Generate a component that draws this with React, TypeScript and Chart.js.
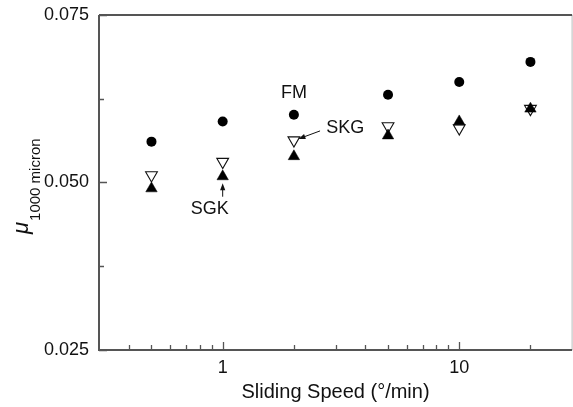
import React, { useEffect, useRef } from 'react';
import { Chart, registerables } from 'chart.js';

Chart.register(...registerables);

const speeds = [0.5, 1, 2, 5, 10, 20];
const fmValues = [0.0561, 0.0591, 0.0601, 0.0631, 0.065, 0.068];
const sgkValues = [0.0491, 0.0509, 0.0539, 0.057, 0.0591, 0.061];
const skgValues = [0.0511, 0.0531, 0.0563, 0.0584, 0.0581, 0.061];

const xMajorTicks = [1, 10];
const xMinorTicks = [0.4, 0.5, 0.6, 0.7, 0.8, 0.9, 2, 3, 4, 5, 6, 7, 8, 9, 20];
const yMajorTicks = [0.025, 0.05, 0.075];
const yMinorTicks = [0.0375, 0.0625];

const xTitle = 'Sliding Speed (°/min)';
const yTitleMain = 'μ';
const yTitleSub = '1000 micron';

const labelTexts = ['FM', 'SKG', 'SGK'];
const labelXs = [2, 3.3, 0.881];
const labelYs = [0.0633, 0.0581, 0.046];
const arrowFromXs = [2.58, 1];
const arrowFromYs = [0.0577, 0.04788];
const arrowToXs = [2.09, 1];
const arrowToYs = [0.0565, 0.04988];

const FONT = '"Liberation Sans", Arial, Helvetica, sans-serif';
const TEXT = '#111';
const AXIS = '#555';

const zeroPadding = (scale: any) => {
  scale.paddingTop = 0;
  scale.paddingBottom = 0;
  scale.paddingLeft = 0;
  scale.paddingRight = 0;
};

const decorPlugin = {
  id: 'decor',
  afterDraw(chart: any) {
    const { ctx, chartArea } = chart;
    const { left, right, top, bottom } = chartArea;
    const xs = chart.scales.x;
    const ys = chart.scales.y;
    ctx.save();
    // frame
    ctx.strokeStyle = '#bbb';
    ctx.lineWidth = 1;
    ctx.beginPath();
    ctx.moveTo(right, top);
    ctx.lineTo(right, bottom);
    ctx.stroke();
    ctx.strokeStyle = AXIS;
    ctx.lineWidth = 2;
    ctx.beginPath();
    ctx.moveTo(left, top);
    ctx.lineTo(right, top);
    ctx.moveTo(left, top);
    ctx.lineTo(left, bottom);
    ctx.lineTo(right, bottom);
    ctx.stroke();
    // ticks (inward)
    ctx.lineWidth = 1.3;
    ctx.beginPath();
    xMajorTicks.forEach((v) => {
      const px = Math.round(xs.getPixelForValue(v)) + 0.5;
      ctx.moveTo(px, bottom);
      ctx.lineTo(px, bottom - 8);
    });
    xMinorTicks.forEach((v) => {
      const px = Math.round(xs.getPixelForValue(v)) + 0.5;
      ctx.moveTo(px, bottom);
      ctx.lineTo(px, bottom - 5);
    });
    yMajorTicks.forEach((v) => {
      const py = Math.round(ys.getPixelForValue(v)) + 0.5;
      ctx.moveTo(left, py);
      ctx.lineTo(left + 8, py);
    });
    yMinorTicks.forEach((v) => {
      const py = Math.round(ys.getPixelForValue(v)) + 0.5;
      ctx.moveTo(left, py);
      ctx.lineTo(left + 5, py);
    });
    ctx.stroke();

    // annotations
    ctx.fillStyle = TEXT;
    ctx.font = `18px ${FONT}`;
    ctx.textAlign = 'center';
    ctx.textBaseline = 'middle';
    labelTexts.forEach((t, i) => {
      ctx.fillText(t, xs.getPixelForValue(labelXs[i]), ys.getPixelForValue(labelYs[i]));
    });
    ctx.strokeStyle = '#111';
    ctx.lineWidth = 1;
    arrowFromXs.forEach((_, i) => {
      const x1 = xs.getPixelForValue(arrowFromXs[i]);
      const y1 = ys.getPixelForValue(arrowFromYs[i]);
      const x2 = xs.getPixelForValue(arrowToXs[i]);
      const y2 = ys.getPixelForValue(arrowToYs[i]);
      const ang = Math.atan2(y2 - y1, x2 - x1);
      const hl = 7;
      const hw = 2.6;
      ctx.beginPath();
      ctx.moveTo(x1, y1);
      ctx.lineTo(x2 - Math.cos(ang) * hl * 0.8, y2 - Math.sin(ang) * hl * 0.8);
      ctx.stroke();
      ctx.beginPath();
      ctx.moveTo(x2, y2);
      ctx.lineTo(x2 - Math.cos(ang) * hl - Math.sin(ang) * hw, y2 - Math.sin(ang) * hl + Math.cos(ang) * hw);
      ctx.lineTo(x2 - Math.cos(ang) * hl + Math.sin(ang) * hw, y2 - Math.sin(ang) * hl - Math.cos(ang) * hw);
      ctx.closePath();
      ctx.fill();
    });

    // x title
    ctx.font = `20px ${FONT}`;
    ctx.textAlign = 'center';
    ctx.textBaseline = 'alphabetic';
    ctx.fillText(xTitle, (left + right) / 2, 398);

    // y title (rotated)
    ctx.translate(28, 234);
    ctx.rotate(-Math.PI / 2);
    ctx.textAlign = 'left';
    ctx.font = `italic 22px ${FONT}`;
    ctx.fillText(yTitleMain, 0, 0);
    const mw = ctx.measureText(yTitleMain).width;
    ctx.font = `15px ${FONT}`;
    ctx.fillText(yTitleSub, mw + 1, 12);
    ctx.restore();
  },
};

export default function App() {
  const canvasRef = useRef<HTMLCanvasElement | null>(null);

  useEffect(() => {
    const canvas = canvasRef.current;
    if (!canvas) return;
    const toPoints = (vals: number[]) => speeds.map((s, i) => ({ x: s, y: vals[i] }));
    const chart = new Chart(canvas, {
      type: 'scatter',
      data: {
        datasets: [
          {
            label: 'FM',
            data: toPoints(fmValues),
            pointStyle: 'circle',
            pointRadius: 5,
            backgroundColor: '#000',
            borderColor: '#000',
            borderWidth: 0,
          },
          {
            label: 'SGK',
            data: toPoints(sgkValues),
            pointStyle: 'triangle',
            pointRadius: 6.6,
            backgroundColor: '#000',
            borderColor: '#000',
            borderWidth: 0.5,
          },
          {
            label: 'SKG',
            data: toPoints(skgValues),
            pointStyle: 'triangle',
            rotation: 180,
            pointRadius: 6.8,
            backgroundColor: 'rgba(0,0,0,0)',
            borderColor: '#111',
            borderWidth: 1.1,
          },
        ],
      },
      options: {
        responsive: false,
        animation: false,
        events: [],
        layout: { padding: { top: 15, right: 1, left: 0, bottom: 0 } },
        plugins: { legend: { display: false }, tooltip: { enabled: false } },
        scales: {
          x: {
            type: 'logarithmic',
            min: 0.3,
            max: 30,
            grid: { display: false, drawTicks: false },
            border: { display: false },
            afterBuildTicks: (scale: any) => {
              scale.ticks = xMajorTicks.map((v) => ({ value: v }));
            },
            afterFit: (scale: any) => {
              scale.height = 57;
              zeroPadding(scale);
            },
            ticks: {
              autoSkip: false,
              maxRotation: 0,
              padding: 7,
              color: TEXT,
              font: { family: FONT, size: 18 },
              callback: (v: any) => String(v),
            },
          },
          y: {
            type: 'linear',
            min: 0.025,
            max: 0.075,
            grid: { display: false, drawTicks: false },
            border: { display: false },
            afterBuildTicks: (scale: any) => {
              scale.ticks = yMajorTicks.map((v) => ({ value: v }));
            },
            afterFit: (scale: any) => {
              scale.width = 99;
              zeroPadding(scale);
            },
            ticks: {
              padding: 10,
              color: TEXT,
              font: { family: FONT, size: 18 },
              callback: (v: any) => Number(v).toFixed(3),
            },
          },
        },
      },
      plugins: [decorPlugin],
    });
    return () => chart.destroy();
  }, []);

  return (
    <div
      style={{
        position: 'fixed',
        left: 0,
        top: 0,
        width: 573,
        height: 407,
        overflow: 'hidden',
        background: '#fff',
      }}
    >
      <canvas ref={canvasRef} width={580} height={407} style={{ display: 'block' }} />
    </div>
  );
}
